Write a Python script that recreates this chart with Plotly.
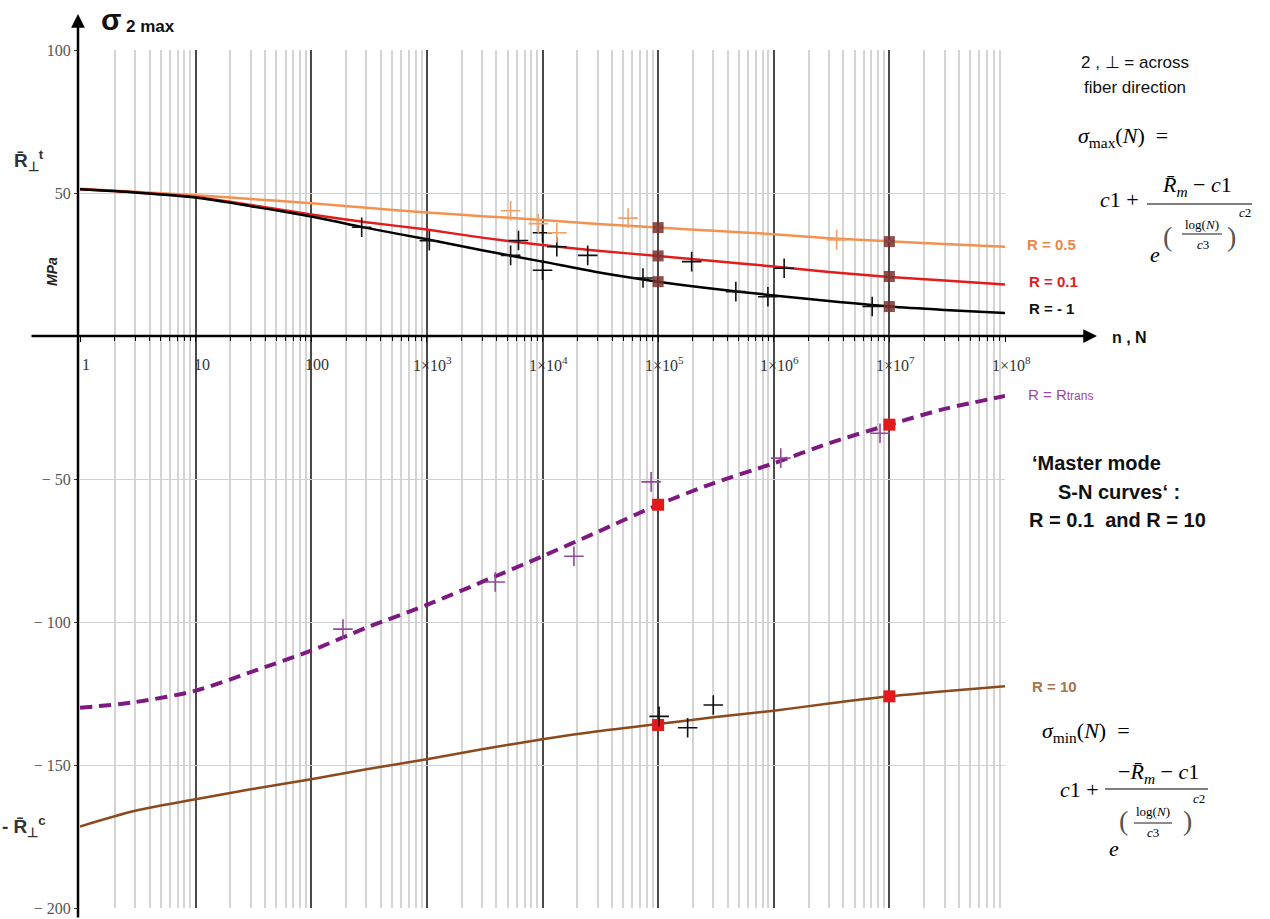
import math
import plotly.graph_objects as go

# ---------------- data ----------------
N_curve = [1, 3, 10, 30, 100, 300, 1e3, 3e3, 1e4, 3e4, 1e5, 3e5, 1e6, 3e6, 1e7, 3e7, 1e8]
S_R05 = [51.5, 50.4, 49.2, 47.9, 46.4, 44.8, 43.2, 41.9, 40.6, 39.2, 37.9, 36.8, 35.6, 34.2, 33.1, 32.2, 31.2]
S_R01 = [51.3, 50.2, 48.6, 45.8, 42.5, 39.8, 37.2, 34.4, 31.8, 29.8, 28.0, 26.2, 24.3, 22.4, 20.6, 19.4, 18.0]
S_Rm1 = [51.3, 50.2, 48.4, 45.4, 41.8, 37.8, 33.8, 30.0, 26.0, 22.3, 19.0, 16.5, 14.2, 12.2, 10.3, 9.1, 8.0]
S_Rtrans = [-130, -128, -124, -117.5, -110, -102, -94, -86, -77, -68.5, -59, -51.5, -44.5, -37.5, -31, -25.5, -21]
S_R10 = [-171.5, -166, -162, -158.5, -155, -151.5, -148, -144.5, -141, -138.2, -135.7, -133.3, -131, -128.5, -126, -124.2, -122.5]

# test data (crosses)
black_up_N = [273, 1050, 5300, 6200, 1.0e4, 1.0e4, 1.33e4, 2.46e4, 7.4e4, 1.95e5, 4.7e5, 8.9e5, 1.23e6, 7.1e6]
black_up_S = [38, 33.3, 28.2, 33.4, 36.1, 23, 31.2, 28.2, 20.3, 26, 15.5, 13.7, 23.7, 10.3]
orange_N = [5300, 9200, 1.33e4, 5.5e4, 3.5e6]
orange_S = [43.8, 39.3, 36.1, 41.2, 33.6]
purple_N = [188, 3900, 1.87e4, 8.7e4, 1.15e6, 8.3e6]
purple_S = [-102.5, -86, -77, -51, -42.7, -34]
black_low_N = [1.02e5, 1.8e5, 3.0e5]
black_low_S = [-133, -137, -129]

# master-curve squares
sq_up_N = [1e5, 1e5, 1e5, 1e7, 1e7, 1e7]
sq_up_S = [37.9, 28.0, 19.0, 33.0, 20.8, 10.3]
sq_red_N = [1e5, 1e7, 1e5, 1e7]
sq_red_S = [-59, -31, -136, -126]

x_tick_vals = [1, 10, 100, 1e3, 1e4, 1e5, 1e6, 1e7, 1e8]
x_tick_labels = ["1", "10", "100", "1×10<sup>3</sup>", "1×10<sup>4</sup>", "1×10<sup>5</sup>",
                 "1×10<sup>6</sup>", "1×10<sup>7</sup>", "1×10<sup>8</sup>"]
y_tick_vals = [-200, -150, -100, -50, 50, 100]
y_tick_labels = ["− 200", "− 150", "− 100", "− 50", "50", "100"]

# ---------------- layout helpers ----------------
W, H = 1270, 919
L, R, T, B = 80, 265, 50, 11
PW, PH = W - L - R, H - T - B


def px(x):
    return (x - L) / PW


def py(y):
    return (H - B - y) / PH


SERIF = "Liberation Serif, Times New Roman, serif"
SANS = "Liberation Sans, Arial, sans-serif"

fig = go.Figure()


def curve(y, color, width=2.5, dash=None):
    fig.add_trace(go.Scatter(x=N_curve, y=y, mode="lines",
                             line=dict(color=color, width=width, shape="spline", smoothing=0.8, dash=dash),
                             hoverinfo="skip", showlegend=False))


curve(S_R05, "#F39250")
curve(S_R01, "#E31B1B")
curve(S_Rm1, "#000000")
curve(S_Rtrans, "#7D1A80", width=4, dash="12px,7px")
curve(S_R10, "#8B4A1E")


def crosses(xs, ys, color):
    fig.add_trace(go.Scatter(x=xs, y=ys, mode="markers",
                             marker=dict(symbol="cross-thin", size=14, line=dict(color=color, width=1.6)),
                             hoverinfo="skip", showlegend=False))


fig.add_trace(go.Scatter(x=sq_up_N, y=sq_up_S, mode="markers",
                         marker=dict(symbol="square", size=11, color="rgba(120,50,48,0.85)"),
                         showlegend=False, hoverinfo="skip"))
fig.add_trace(go.Scatter(x=sq_red_N, y=sq_red_S, mode="markers",
                         marker=dict(symbol="square", size=12, color="#E31A1C"),
                         showlegend=False, hoverinfo="skip"))
crosses(black_up_N, black_up_S, "#111111")
crosses(orange_N, orange_S, "#F2A06A")
crosses(purple_N, purple_S, "#94489A")
crosses(black_low_N, black_low_S, "#111111")

ann = []

# x tick labels on the zero line
for v, lab in zip(x_tick_vals, x_tick_labels):
    ann.append(dict(x=math.log10(v), y=0, xref="x", yref="y", text=lab, showarrow=False,
                    xanchor="center", yanchor="middle", xshift=6, yshift=-28,
                    font=dict(family=SERIF, size=16, color="#333")))

# axis arrows
ann.append(dict(x=px(1097), y=0, xref="paper", yref="y", ax=30 - 1097, ay=0, text="",
                showarrow=True, arrowhead=2, arrowsize=1.1, arrowwidth=2.5, arrowcolor="black", standoff=0))
ann.append(dict(x=px(78), y=py(14), xref="paper", yref="paper", ax=0, ay=919 - 14, text="",
                showarrow=True, arrowhead=2, arrowsize=1.1, arrowwidth=2.5, arrowcolor="black", standoff=0))


def txt(x, y, text, size=14, color="black", family=SANS, xanchor="left", yanchor="middle", angle=0):
    ann.append(dict(x=px(x), y=py(y), xref="paper", yref="paper", text=text, showarrow=False,
                    xanchor=xanchor, yanchor=yanchor, textangle=angle,
                    font=dict(family=family, size=size, color=color)))


# axis titles
txt(99, 20, "<b>σ</b>", size=30, color="#111")
txt(124, 26, "<b>2 max</b>", size=17, color="#111")
txt(1110, 338, "<b>n , N</b>", size=16, color="#111")
txt(52, 272, "<b><i>MPa</i></b>", size=14, color="#222", xanchor="center", angle=-90)
txt(12, 160, "<b>R\u0304<sub>⊥</sub><sup>t</sup></b>", size=19, color="#333")
txt(0, 826, "<b>- R\u0304<sub>⊥</sub><sup>c</sup></b>", size=19, color="#333")

# series labels
txt(1025, 244, "<b>R = 0.5</b>", size=15, color="#E8874A")
txt(1027, 281, "<b>R = 0.1</b>", size=15, color="#E0201B")
txt(1027, 308, "<b>R = - 1</b>", size=15, color="#111")
txt(1026, 394, "R = R<span style='font-size:12px'>trans</span>", size=15, color="#9A4A9E")
txt(1030, 686, "<b>R = 10</b>", size=15, color="#A8734A")

# explanation text
txt(1135, 63, "2 , ⊥ = across", size=17, color="#111", xanchor="center")
txt(1135, 87, "fiber direction", size=17, color="#111", xanchor="center")
txt(1030, 463, "<b>‘Master mode</b>", size=20, color="#111")
txt(1056, 492, "<b>S-N curves‘ :</b>", size=20, color="#111")
txt(1027, 520, "<b>R = 0.1  and R = 10</b>", size=20, color="#111")

# formula sigma_max
txt(1076, 137, "<i>σ</i><sub>max</sub>(<i>N</i>)  =", size=22, family=SERIF)
txt(1098, 200, "<i>c</i>1 +", size=22, family=SERIF)
txt(1197, 186, "<i>R\u0304<sub>m</sub></i> − <i>c</i>1", size=22, family=SERIF, xanchor="center")
txt(1155, 255, "<i>e</i>", size=22, family=SERIF, xanchor="center")
txt(1167, 236, "(", size=28, family=SERIF, color="#555", xanchor="center")
txt(1231, 236, ")", size=28, family=SERIF, color="#555", xanchor="center")
txt(1202, 224, "log(<i>N</i>)", size=13, family=SERIF, xanchor="center")
txt(1203, 244, "<i>c</i>3", size=13, family=SERIF, xanchor="center")
txt(1245, 213, "<i>c</i>2", size=13, family=SERIF, xanchor="center")

# formula sigma_min
txt(1040, 732, "<i>σ</i><sub>min</sub>(<i>N</i>)  =", size=22, family=SERIF)
txt(1058, 789, "<i>c</i>1 +", size=22, family=SERIF)
txt(1158, 773, "−<i>R\u0304<sub>m</sub></i> − <i>c</i>1", size=22, family=SERIF, xanchor="center")
txt(1114, 848, "<i>e</i>", size=22, family=SERIF, xanchor="center")
txt(1123, 820, "(", size=28, family=SERIF, color="#555", xanchor="center")
txt(1187, 820, ")", size=28, family=SERIF, color="#555", xanchor="center")
txt(1153, 811, "log(<i>N</i>)", size=13, family=SERIF, xanchor="center")
txt(1153, 832, "<i>c</i>3", size=13, family=SERIF, xanchor="center")
txt(1199, 798, "<i>c</i>2", size=13, family=SERIF, xanchor="center")

shapes = []


def hline(x0, x1, y, w=1.2):
    shapes.append(dict(type="line", xref="paper", yref="paper", x0=px(x0), x1=px(x1), y0=py(y), y1=py(y),
                       line=dict(color="black", width=w)))


hline(1147, 1252, 204)
hline(1182, 1222, 234, 0.9)
hline(1105, 1208, 789)
hline(1134, 1172, 823, 0.9)

fig.update_layout(
    width=W, height=H,
    margin=dict(l=L, r=R, t=T, b=B, pad=0, autoexpand=False),
    paper_bgcolor="white", plot_bgcolor="white",
    showlegend=False,
    annotations=ann, shapes=shapes,
    xaxis=dict(type="log", range=[0, 8], dtick=1, showgrid=True, gridcolor="#4a4a4a", gridwidth=1.5,
               minor=dict(dtick="D1", showgrid=True, gridcolor="#d4d4d4", gridwidth=1.5,
                          ticks="outside", ticklen=4, tickcolor="black", tickwidth=1),
               ticks="outside", ticklen=5, tickcolor="black", tickwidth=1,
               showticklabels=False, anchor="free", position=2 / 3,
               showline=False, zeroline=False, automargin=False),
    yaxis=dict(range=[-200, 100], tickvals=y_tick_vals, ticktext=y_tick_labels,
               showgrid=True, gridcolor="#d0d0d0", gridwidth=1.2,
               ticks="outside", ticklen=5, tickcolor="#333",
               tickfont=dict(family=SERIF, size=16, color="#555"),
               zeroline=False, showline=False, automargin=False),
)

fig.write_html("out.html", config={"displayModeBar": False},
               post_script="document.body.style.margin='0';document.body.style.overflow='hidden';")
